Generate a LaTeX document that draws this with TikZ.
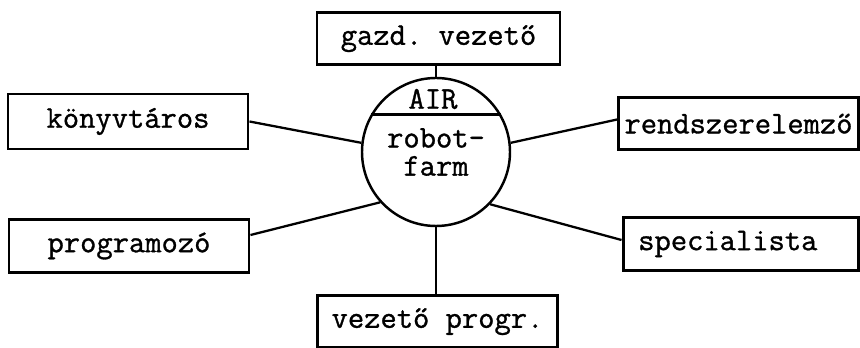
\documentclass[tikz,border=0pt]{standalone}
\usepackage{fontspec}
\setmonofont{Latin Modern Mono}[FakeBold=1]
\usepackage{tikz}
\usetikzlibrary{shapes.geometric, positioning}

\begin{document}
\begin{tikzpicture}[
  font=\ttfamily\fontsize{18}{16}\selectfont,
  rolebox/.style={
    draw=black,
    line width=1.7pt,
    minimum width=4.8cm,
    minimum height=1.05cm,
    align=center,
  },
  hub/.style={
    draw=black,
    circle,
    line width=1.4pt,
    minimum size=2.96cm,
    inner sep=0pt,
  },
  link/.style={
    line width=1.3pt,
  }
]
  \useasboundingbox (0,0) rectangle (17.2,6.96);

  % === centre: AIR robot-farm ===
  \node[hub] (farm) at (8.72, 3.92) {};
  \draw[line width=1.4pt] (farm.150) -- (farm.30);
  \node[inner sep=1pt] (air) at (8.66, 4.98) {AIR};
  \node[inner sep=1pt, align=center] (robot) at (8.72, 3.92) {robot-\\farm};

  % === the roles around it ===
  \node[rolebox, minimum width=4.86cm] (gazd) at (8.77, 6.19) {gazd. vezető};
  \node[rolebox, minimum height=1.1cm] (kony) at (2.56, 4.53) {könyvtáros};
  \node[rolebox] (prog) at (2.58, 2.04) {programozó};
  \node[rolebox, minimum width=4.78cm] (rend) at (14.77, 4.49) {rendszerelemző};
  \node[rolebox, minimum width=4.7cm] (spec) at (14.81, 2.08) {specialista\hspace{0.8em}};
  \node[rolebox] (vez) at (8.75, 0.53) {vezető progr.};

  % Lines from the roles to the circle
  \draw[link] (farm.north) -- (farm.north |- gazd.south);
  \draw[link] (farm.south) -- (farm.south |- vez.north);
  \draw[link] (kony.east) -- (farm.173);
  \draw[link] ([yshift=0.22cm]prog.east) -- (farm.222);
  \draw[link] ([yshift=0.08cm]rend.west) -- (farm.7);
  \draw[link] ([yshift=0.08cm]spec.west) -- (farm.-44);

\end{tikzpicture}
\end{document}
